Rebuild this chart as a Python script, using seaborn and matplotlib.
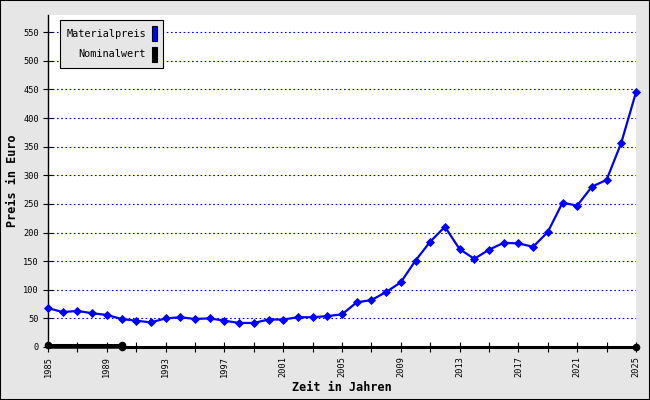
import matplotlib
matplotlib.use("Agg")
import matplotlib.pyplot as plt
from matplotlib.patches import Patch
import pandas as pd
import seaborn as sns

# Materialpreis pro Jahr (Euro)
jahre = list(range(1985, 2026))
materialpreis = [68, 61, 63, 59, 56, 49, 46, 43, 50, 52, 49, 50, 46, 42, 42, 48,
                 48, 52, 52, 54, 57, 78, 82, 96, 113, 151, 184, 210, 171, 154,
                 170, 182, 181, 175, 201, 252, 247, 280, 292, 357, 445]

# Nominalwert
nominal_jahre = [1985, 1990, 1990, 2025]
nominalwert = [4, 4, 0, 0]

y_ticks = list(range(0, 551, 50))
x_ticks = list(range(1985, 2026, 2))
x_labels = [str(j) if (j - 1985) % 4 == 0 else "" for j in x_ticks]

df_mat = pd.DataFrame({"jahr": jahre, "preis": materialpreis})
df_nom = pd.DataFrame({"jahr": nominal_jahre, "preis": nominalwert})

sns.set_theme(style="white")
plt.rcParams["font.family"] = ["DejaVu Sans Mono", "DejaVu Sans"]
plt.rcParams["text.color"] = "black"
plt.rcParams["axes.labelcolor"] = "black"
plt.rcParams["xtick.color"] = "black"
plt.rcParams["ytick.color"] = "black"

bg = "#e6e6e6"
fig = plt.figure(figsize=(6.5, 4), dpi=100, facecolor=bg)
ax = fig.add_axes([48 / 650, 1 - 347 / 400, 588 / 650, 332 / 400])
ax.set_facecolor("white")

# Rahmen um die ganze Grafik
fig.patches.append(plt.Rectangle((0, 0), 1, 1, transform=fig.transFigure,
                                 fill=False, edgecolor="black", linewidth=1.5))

for y in y_ticks[1:]:
    ax.axhline(y, color="#0000ff", linewidth=0.8, linestyle=(0, (1.5, 2.3)),
               zorder=1)

sns.lineplot(data=df_nom, x="jahr", y="preis", ax=ax, color="black",
             linewidth=2.2, marker="o", markersize=5.5, markeredgewidth=0,
             estimator=None, sort=False, zorder=4, clip_on=False)
sns.lineplot(data=df_mat, x="jahr", y="preis", ax=ax, color="#0000ff",
             linewidth=1.6, marker="D", markersize=4.5, markeredgewidth=0.6,
             markeredgecolor="#0000ff", estimator=None, zorder=3, clip_on=False)

ax.set_xlim(1985, 2025)
ax.set_ylim(0, 580)
ax.set_yticks(y_ticks)
ax.set_yticklabels([str(v) for v in y_ticks], fontsize=6.2)
ax.set_xticks(x_ticks)
ax.set_xticklabels(x_labels, rotation=90, fontsize=6.2)
ax.tick_params(axis="both", direction="inout", length=7, width=0.8,
               color="black", labelcolor="black", pad=3, left=True, bottom=True)

for s in ["top", "right"]:
    ax.spines[s].set_visible(False)
ax.spines["left"].set_color("black")
ax.spines["left"].set_linewidth(1)
ax.spines["bottom"].set_color("black")
ax.spines["bottom"].set_linewidth(1.8)

ax.set_xlabel("Zeit in Jahren", fontsize=8.5, fontweight="bold", labelpad=3)
ax.set_ylabel("Preis in Euro", fontsize=8.5, fontweight="bold", labelpad=3)

handles = [Patch(facecolor="#0000ff", edgecolor="black", linewidth=0.8),
           Patch(facecolor="black", edgecolor="black", linewidth=0.8)]
leg = ax.legend(handles, ["Materialpreis", "Nominalwert"], loc="upper left",
                bbox_to_anchor=(12 / 588, 1 - 5 / 332), borderaxespad=0,
                markerfirst=False, handlelength=0.5, handleheight=1.9,
                handletextpad=0.6, labelspacing=0.5, borderpad=0.6,
                fontsize=7.4, frameon=True, fancybox=False, framealpha=1)
leg.get_frame().set_facecolor(bg)
leg.get_frame().set_edgecolor("black")
leg.get_frame().set_linewidth(0.8)

fig.savefig("out.png", dpi=100, facecolor=bg)
